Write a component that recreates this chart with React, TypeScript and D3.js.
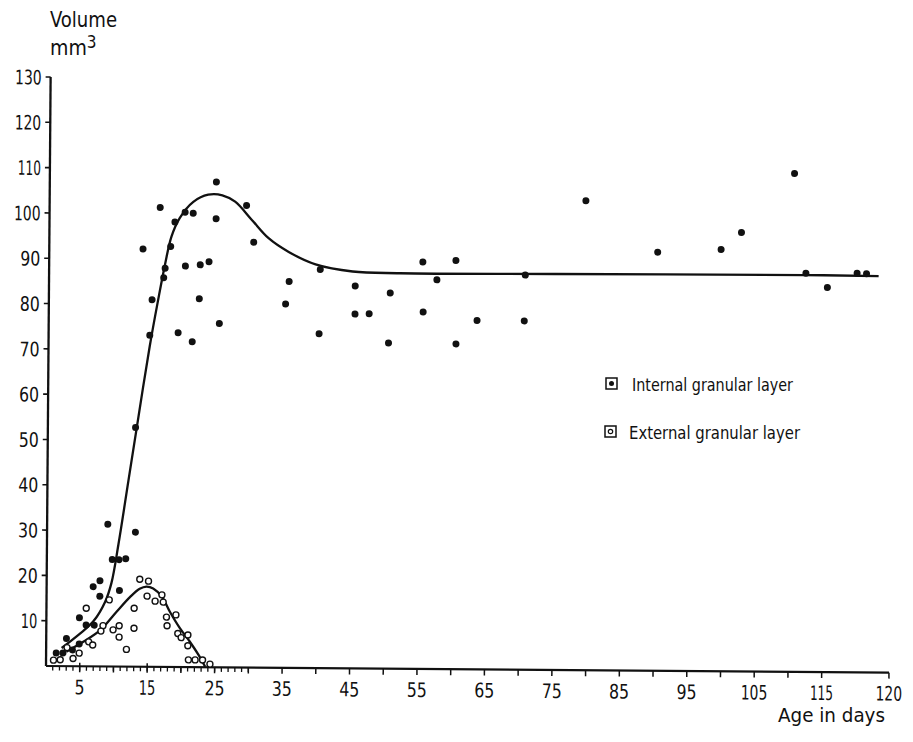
import React, { useEffect, useRef } from 'react';
import * as d3 from 'd3';

// Internal granular layer (filled dots)
const internalDays = [24.7, 16.4, 29.2, 20.1, 21.3, 24.7, 18.6, 30.3, 13.9, 18.0, 17.2, 20.2, 22.4, 23.7, 17.0, 35.6, 15.3, 22.3, 35.1, 15.0, 19.2, 21.3, 25.3, 40.1, 40.2, 13.0, 9.0, 13.1, 9.7, 10.7, 11.7, 7.9, 6.9, 7.9, 10.8, 4.9, 5.9, 7.1, 3.0, 4.9, 1.5, 2.5, 3.9, 45.4, 45.4, 47.5, 50.6, 50.4, 55.4, 60.3, 57.5, 55.5, 63.5, 60.4, 70.6, 70.5, 79.5, 90.2, 99.6, 102.6, 110.4, 112.2, 115.2, 117.4, 118.1];
const internalVolumes = [107.1, 101.4, 102.0, 100.4, 100.2, 99.0, 98.2, 93.9, 92.2, 92.8, 88.0, 88.5, 88.8, 89.5, 85.9, 85.3, 81.0, 81.3, 80.3, 73.2, 73.8, 71.8, 75.9, 73.8, 88.0, 52.8, 31.4, 29.7, 23.6, 23.6, 23.8, 18.9, 17.6, 15.5, 16.8, 10.7, 9.1, 9.1, 6.1, 4.9, 2.9, 2.9, 3.6, 84.4, 78.2, 78.3, 82.9, 71.9, 89.8, 90.2, 85.9, 78.8, 77.0, 71.8, 87.1, 77.0, 103.6, 92.4, 93.1, 96.9, 110.0, 88.0, 84.9, 88.1, 88.0];

// External granular layer (open circles)
const externalDays = [13.8, 15.1, 14.9, 16.1, 17.1, 17.3, 9.3, 5.9, 13.0, 17.8, 19.2, 17.9, 8.4, 8.1, 9.9, 10.8, 13.0, 10.8, 11.9, 19.5, 20.0, 21.0, 21.0, 21.1, 22.1, 23.2, 24.3, 6.3, 6.9, 3.1, 4.0, 4.9, 1.1, 2.1];
const externalVolumes = [19.3, 18.9, 15.6, 14.5, 15.9, 14.3, 14.7, 12.8, 12.9, 11.0, 11.5, 9.1, 9.0, 7.8, 8.1, 9.0, 8.5, 6.5, 3.8, 7.4, 6.5, 7.1, 4.7, 1.6, 1.6, 1.6, 0.7, 5.4, 4.7, 4.1, 1.7, 2.9, 1.3, 1.4];

// Fitted curves
const internalCurveDays = [2.3, 5.0, 7.0, 8.7, 9.6, 10.6, 12.0, 13.2, 15.0, 16.2, 17.2, 18.1, 19.3, 21.3, 23.5, 25.6, 27.5, 30.0, 32.5, 35.5, 39.5, 45.0, 52.0, 75.0, 112.0, 119.0];
const internalCurveVolumes = [4.0, 7.2, 10.0, 14.3, 18.4, 27.0, 41.0, 53.0, 70.7, 81.0, 89.0, 95.0, 99.1, 102.7, 104.3, 104.2, 102.8, 98.8, 94.8, 91.8, 89.1, 87.6, 87.3, 87.4, 87.6, 87.5];
const externalCurveDays = [3.0, 5.5, 8.0, 10.4, 12.4, 13.8, 14.8, 15.8, 17.1, 18.3, 19.8, 21.3, 22.6, 23.6];
const externalCurveVolumes = [3.2, 5.4, 8.0, 12.1, 15.4, 17.2, 17.7, 17.3, 15.5, 12.2, 8.6, 5.6, 2.7, 0.1];

const yTickValues = [10, 20, 30, 40, 50, 60, 70, 80, 90, 100, 110, 120, 130];
const xLabelValues = [5, 15, 25, 35, 45, 55, 65, 75, 85, 95, 105, 115, 120];
const xMajorTicks = [5, 10, 15, 20, 25, 30, 35, 40, 45, 50, 55, 60, 65, 70, 75, 80, 85, 90, 95, 100, 105, 110, 115, 120];
const xMinorTicks = d3.range(1, 31);

const FONT = '"DejaVu Sans Condensed", "DejaVu Sans", sans-serif';
const INK = '#111';

function numWidth(s: string) {
  let w = 0;
  for (const c of s) w += c === '1' ? 6.5 : 10;
  return w;
}

export default function App() {
  const ref = useRef<SVGSVGElement>(null);

  useEffect(() => {
    const svg = d3.select(ref.current);
    svg.selectAll('*').remove();

    const x = d3.scaleLinear().domain([0, 115, 120]).range([46, 821.7, 889]);
    const y = d3.scaleLinear().domain([0, 130]).range([666, 77]);

    const g = svg.append('g').attr('transform', 'rotate(0.45,46,666)');

    // Y axis
    g.append('line')
      .attr('x1', x(0)).attr('x2', x(0))
      .attr('y1', y(0)).attr('y2', y(130))
      .attr('stroke', INK).attr('stroke-width', 2.3);
    yTickValues.forEach((v) => {
      g.append('line')
        .attr('x1', x(0) - 5).attr('x2', x(0))
        .attr('y1', y(v)).attr('y2', y(v))
        .attr('stroke', INK).attr('stroke-width', 1.6);
      const s = String(v);
      g.append('text')
        .attr('x', x(0) - 9).attr('y', y(v) + 7.5)
        .attr('text-anchor', 'end')
        .attr('font-family', FONT).attr('font-size', 20)
        .attr('textLength', numWidth(s)).attr('lengthAdjust', 'spacingAndGlyphs')
        .attr('fill', INK)
        .text(s);
    });

    // X axis
    g.append('line')
      .attr('x1', x(0)).attr('x2', x(120))
      .attr('y1', y(0)).attr('y2', y(0))
      .attr('stroke', INK).attr('stroke-width', 2.2);
    xMinorTicks.forEach((d) => {
      g.append('line')
        .attr('x1', x(d)).attr('x2', x(d))
        .attr('y1', y(0)).attr('y2', y(0) + 4.5)
        .attr('stroke', INK).attr('stroke-width', 1.3);
    });
    xMajorTicks.forEach((d) => {
      const up = d === 5 || d === 15 ? 3.5 : 0;
      g.append('line')
        .attr('x1', x(d)).attr('x2', x(d))
        .attr('y1', y(0) - up).attr('y2', y(0) + 6)
        .attr('stroke', INK).attr('stroke-width', 1.5);
    });
    xLabelValues.forEach((d) => {
      const s = String(d);
      g.append('text')
        .attr('x', x(d)).attr('y', y(0) + 28)
        .attr('text-anchor', 'middle')
        .attr('font-family', FONT).attr('font-size', 20)
        .attr('textLength', numWidth(s)).attr('lengthAdjust', 'spacingAndGlyphs')
        .attr('fill', INK)
        .text(s);
    });

    // Curves
    const line = d3.line<[number, number]>()
      .x((d) => x(d[0]))
      .y((d) => y(d[1]))
      .curve(d3.curveCatmullRom.alpha(0.5));
    const internalCurve: [number, number][] = internalCurveDays.map((d, i) => [d, internalCurveVolumes[i]]);
    const externalCurve: [number, number][] = externalCurveDays.map((d, i) => [d, externalCurveVolumes[i]]);
    g.append('path').attr('d', line(internalCurve) as string)
      .attr('fill', 'none').attr('stroke', INK).attr('stroke-width', 2.3);
    g.append('path').attr('d', line(externalCurve) as string)
      .attr('fill', 'none').attr('stroke', INK).attr('stroke-width', 2.3);

    // Points
    externalDays.forEach((d, i) => {
      g.append('circle')
        .attr('cx', x(d)).attr('cy', y(externalVolumes[i]))
        .attr('r', 3.0)
        .attr('fill', '#fff').attr('stroke', INK).attr('stroke-width', 1.4);
    });
    internalDays.forEach((d, i) => {
      g.append('circle')
        .attr('cx', x(d)).attr('cy', y(internalVolumes[i]))
        .attr('r', 3.5)
        .attr('fill', INK);
    });

    // Axis titles
    svg.append('text')
      .attr('x', 50).attr('y', 27)
      .attr('font-family', FONT).attr('font-size', 21)
      .attr('textLength', 67).attr('lengthAdjust', 'spacingAndGlyphs')
      .attr('fill', INK).text('Volume');
    const unit = svg.append('text')
      .attr('x', 50).attr('y', 55)
      .attr('font-family', FONT).attr('font-size', 21)
      .attr('fill', INK);
    unit.append('tspan').text('mm');
    unit.append('tspan').attr('dy', -7).attr('font-size', 17).text('3');
    svg.append('text')
      .attr('x', 778).attr('y', 722)
      .attr('font-family', FONT).attr('font-size', 20)
      .attr('textLength', 107).attr('lengthAdjust', 'spacingAndGlyphs')
      .attr('fill', INK).text('Age in days');

    // Legend
    const legend = [
      { label: 'Internal  granular  layer', sx: 606, sy: 378, tx: 632, ty: 391, tl: 161, filled: true },
      { label: 'External  granular  layer', sx: 605, sy: 426, tx: 629, ty: 439, tl: 171, filled: false },
    ];
    legend.forEach((l) => {
      svg.append('rect')
        .attr('x', l.sx).attr('y', l.sy).attr('width', 11).attr('height', 11)
        .attr('fill', '#fff').attr('stroke', INK).attr('stroke-width', 1.5);
      svg.append('circle')
        .attr('cx', l.sx + 5.5).attr('cy', l.sy + 5.5)
        .attr('r', l.filled ? 2.5 : 2.2)
        .attr('fill', l.filled ? INK : '#fff')
        .attr('stroke', INK).attr('stroke-width', l.filled ? 0 : 1.2);
      svg.append('text')
        .attr('x', l.tx).attr('y', l.ty)
        .attr('font-family', FONT).attr('font-size', 17)
        .attr('textLength', l.tl).attr('lengthAdjust', 'spacingAndGlyphs')
        .attr('fill', INK).text(l.label);
    });
  }, []);

  return (
    <svg
      ref={ref}
      width={913}
      height={742}
      style={{ position: 'absolute', left: 0, top: 0, background: '#fff' }}
    />
  );
}
